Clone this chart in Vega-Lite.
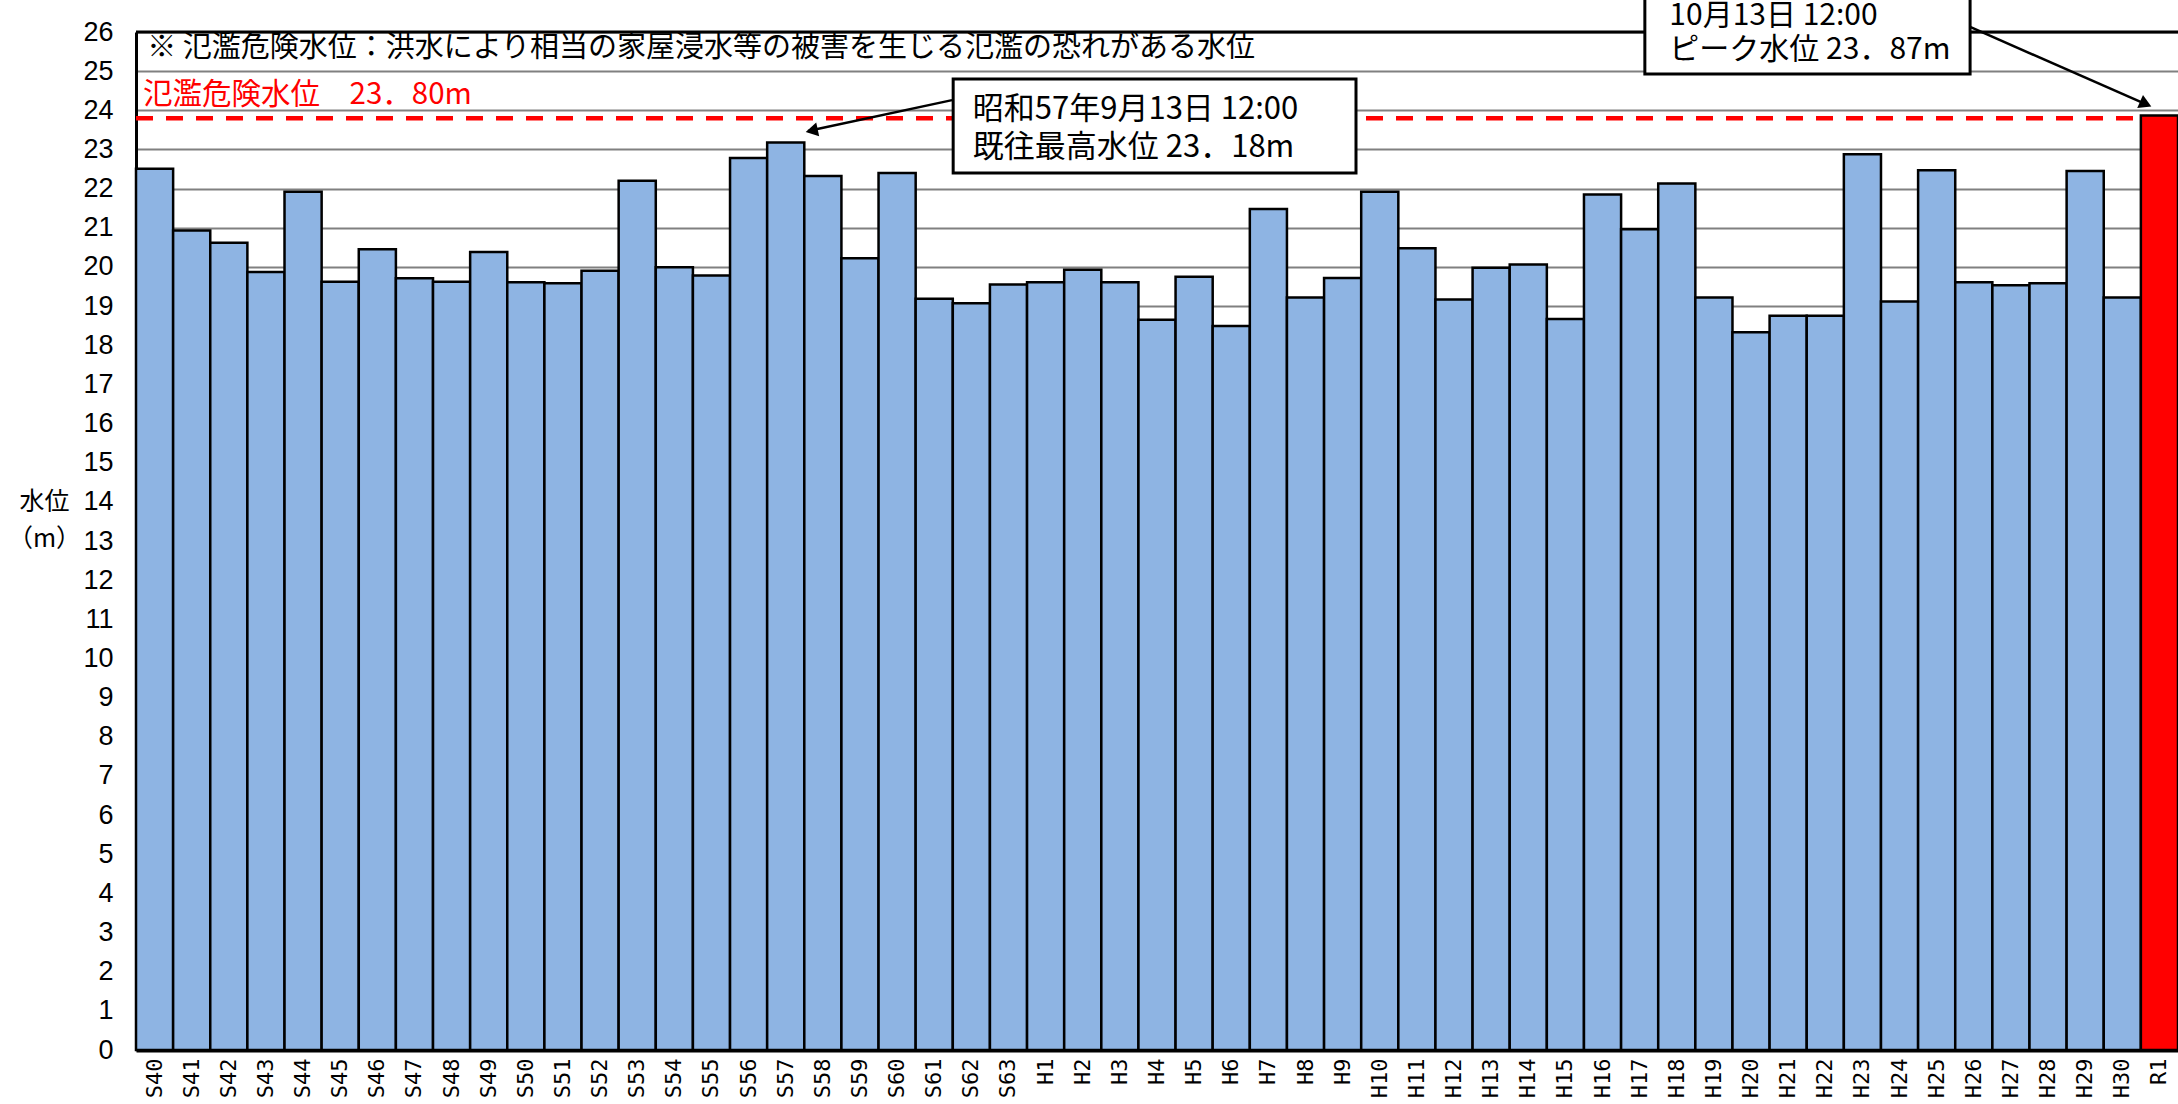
{
  "$schema": "https://vega.github.io/schema/vega-lite/v6.json",
  "width": 2042,
  "height": 1018,
  "autosize": {"type": "none"},
  "padding": {"left": 136, "top": 32, "right": 0, "bottom": 54},
  "background": "white",
  "config": {
    "view": {"stroke": null},
    "font": "Liberation Sans"
  },
  "data": {"values": [
    {"year": "S40", "level": 22.51}, {"year": "S41", "level": 20.93}, {"year": "S42", "level": 20.62},
    {"year": "S43", "level": 19.87}, {"year": "S44", "level": 21.92}, {"year": "S45", "level": 19.62},
    {"year": "S46", "level": 20.45}, {"year": "S47", "level": 19.71}, {"year": "S48", "level": 19.62},
    {"year": "S49", "level": 20.38}, {"year": "S50", "level": 19.61}, {"year": "S51", "level": 19.58},
    {"year": "S52", "level": 19.90}, {"year": "S53", "level": 22.20}, {"year": "S54", "level": 19.99},
    {"year": "S55", "level": 19.78}, {"year": "S56", "level": 22.78}, {"year": "S57", "level": 23.18},
    {"year": "S58", "level": 22.32}, {"year": "S59", "level": 20.22}, {"year": "S60", "level": 22.40},
    {"year": "S61", "level": 19.19}, {"year": "S62", "level": 19.07}, {"year": "S63", "level": 19.55},
    {"year": "H1", "level": 19.61}, {"year": "H2", "level": 19.93}, {"year": "H3", "level": 19.61},
    {"year": "H4", "level": 18.65}, {"year": "H5", "level": 19.75}, {"year": "H6", "level": 18.49},
    {"year": "H7", "level": 21.48}, {"year": "H8", "level": 19.22}, {"year": "H9", "level": 19.72},
    {"year": "H10", "level": 21.92}, {"year": "H11", "level": 20.48}, {"year": "H12", "level": 19.17},
    {"year": "H13", "level": 19.98}, {"year": "H14", "level": 20.06}, {"year": "H15", "level": 18.67},
    {"year": "H16", "level": 21.85}, {"year": "H17", "level": 20.96}, {"year": "H18", "level": 22.13},
    {"year": "H19", "level": 19.22}, {"year": "H20", "level": 18.33}, {"year": "H21", "level": 18.75},
    {"year": "H22", "level": 18.75}, {"year": "H23", "level": 22.88}, {"year": "H24", "level": 19.12},
    {"year": "H25", "level": 22.47}, {"year": "H26", "level": 19.61}, {"year": "H27", "level": 19.53},
    {"year": "H28", "level": 19.58}, {"year": "H29", "level": 22.45}, {"year": "H30", "level": 19.22},
    {"year": "R1", "level": 23.87}
  ]},
  "resolve": {"scale": {"x": "independent"}, "axis": {"x": "independent", "y": "independent"}},
  "layer": [
    {
      "mark": {"type": "bar", "stroke": "black", "strokeWidth": 2.5, "clip": false},
      "encoding": {
        "x": {
          "field": "year", "type": "nominal", "sort": null,
          "scale": {"paddingInner": 0, "paddingOuter": 0},
          "axis": {
            "title": null, "labelAngle": 270, "labelFont": "DejaVu Sans Mono", "labelFontSize": 22,
            "labelColor": "black", "labelPadding": 8, "ticks": false, "tickSize": 0,
            "domainColor": "black", "domainWidth": 4, "grid": false, "labelOverlap": false
          }
        },
        "y": {
          "field": "level", "type": "quantitative",
          "scale": {"domain": [0, 26], "nice": false, "zero": true},
          "axis": {
            "title": ["水位", "（m）"], "titleAngle": 0, "titleFont": "Noto Sans CJK JP",
            "titleFontSize": 25, "titleFontWeight": "normal", "titleColor": "black",
            "titleX": -92, "titleY": 457, "titleAlign": "center", "titleBaseline": "top", "titleLineHeight": 37,
            "values": [0,1,2,3,4,5,6,7,8,9,10,11,12,13,14,15,16,17,18,19,20,21,22,23,24,25,26],
            "labelOverlap": false,
            "labelFont": "Liberation Sans", "labelFontSize": 27, "labelColor": "black",
            "labelPadding": 23, "ticks": false, "tickSize": 0,
            "domainColor": "black", "domainWidth": 3,
            "grid": true, "gridColor": "#808080", "gridWidth": 2
          }
        },
        "fill": {
          "condition": {"test": "datum.year === 'R1'", "value": "#FF0000"},
          "value": "#8EB4E3"
        }
      }
    },
    {
      "data": {"values": [{}]},
      "layer": [
        {
          "mark": {"type": "rule", "color": "#FF0000", "strokeWidth": 4.5, "strokeDash": [17, 13]},
          "encoding": {
            "x": {"datum": 0, "type": "quantitative", "scale": {"domain": [0, 55]}, "axis": null},
            "x2": {"datum": 54},
            "y": {"datum": 23.8, "type": "quantitative", "axis": null}
          }
        },
        {
          "mark": {"type": "rule", "color": "black", "strokeWidth": 3},
          "encoding": {
            "x": {"datum": 0, "type": "quantitative", "scale": {"domain": [0, 55]}, "axis": null},
            "x2": {"datum": 55},
            "y": {"datum": 26, "type": "quantitative", "axis": null}
          }
        },
        {
          "mark": {"type": "text", "font": "Noto Sans CJK JP", "fontSize": 29, "align": "left", "baseline": "middle", "color": "black"},
          "encoding": {
            "x": {"datum": 0.30, "type": "quantitative", "scale": {"domain": [0, 55]}, "axis": null},
            "y": {"datum": 25.60, "type": "quantitative", "axis": null},
            "text": {"value": "※ 氾濫危険水位：洪水により相当の家屋浸水等の被害を生じる氾濫の恐れがある水位"}
          }
        },
        {
          "mark": {"type": "text", "font": "Noto Sans CJK JP", "fontSize": 29.5, "align": "left", "baseline": "middle", "color": "#FF0000"},
          "encoding": {
            "x": {"datum": 0.19, "type": "quantitative", "scale": {"domain": [0, 55]}, "axis": null},
            "y": {"datum": 24.39, "type": "quantitative", "axis": null},
            "text": {"value": "氾濫危険水位　23．80m"}
          }
        },
        {
          "mark": {"type": "rule", "color": "black", "strokeWidth": 2.5},
          "encoding": {
            "x": {"datum": 21.98, "type": "quantitative", "scale": {"domain": [0, 55]}, "axis": null},
            "x2": {"datum": 18.10},
            "y": {"datum": 24.26, "type": "quantitative", "axis": null},
            "y2": {"datum": 23.47}
          }
        },
        {
          "mark": {"type": "point", "shape": "triangle-up", "filled": true, "color": "black", "opacity": 1, "size": 200, "angle": 258},
          "encoding": {
            "x": {"datum": 18.20, "type": "quantitative", "scale": {"domain": [0, 55]}, "axis": null},
            "y": {"datum": 23.48, "type": "quantitative", "axis": null}
          }
        },
        {
          "mark": {"type": "rect", "fill": "white", "stroke": "black", "strokeWidth": 3},
          "encoding": {
            "x": {"datum": 22.01, "type": "quantitative", "scale": {"domain": [0, 55]}, "axis": null},
            "x2": {"datum": 32.86},
            "y": {"datum": 24.80, "type": "quantitative", "axis": null},
            "y2": {"datum": 22.40}
          }
        },
        {
          "mark": {"type": "text", "font": "Noto Sans CJK JP", "fontSize": 31, "align": "left", "baseline": "middle", "color": "black"},
          "encoding": {
            "x": {"datum": 22.54, "type": "quantitative", "scale": {"domain": [0, 55]}, "axis": null},
            "y": {"datum": 24.00, "type": "quantitative", "axis": null},
            "text": {"value": "昭和57年9月13日 12:00"}
          }
        },
        {
          "mark": {"type": "text", "font": "Noto Sans CJK JP", "fontSize": 31, "align": "left", "baseline": "middle", "color": "black"},
          "encoding": {
            "x": {"datum": 22.54, "type": "quantitative", "scale": {"domain": [0, 55]}, "axis": null},
            "y": {"datum": 23.04, "type": "quantitative", "axis": null},
            "text": {"value": "既往最高水位 23．18m"}
          }
        },
        {
          "mark": {"type": "rule", "color": "black", "strokeWidth": 2.5},
          "encoding": {
            "x": {"datum": 49.40, "type": "quantitative", "scale": {"domain": [0, 55]}, "axis": null},
            "x2": {"datum": 54.10},
            "y": {"datum": 26.13, "type": "quantitative", "axis": null},
            "y2": {"datum": 24.17}
          }
        },
        {
          "mark": {"type": "point", "shape": "triangle-up", "filled": true, "color": "black", "opacity": 1, "size": 200, "angle": 114},
          "encoding": {
            "x": {"datum": 54.13, "type": "quantitative", "scale": {"domain": [0, 55]}, "axis": null},
            "y": {"datum": 24.16, "type": "quantitative", "axis": null}
          }
        },
        {
          "mark": {"type": "rect", "fill": "white", "stroke": "black", "strokeWidth": 3, "clip": false},
          "encoding": {
            "x": {"datum": 40.64, "type": "quantitative", "scale": {"domain": [0, 55]}, "axis": null},
            "x2": {"datum": 49.40},
            "y": {"datum": 27.6, "type": "quantitative", "axis": null},
            "y2": {"datum": 24.93}
          }
        },
        {
          "mark": {"type": "text", "font": "Noto Sans CJK JP", "fontSize": 30, "align": "left", "baseline": "middle", "color": "black"},
          "encoding": {
            "x": {"datum": 41.30, "type": "quantitative", "scale": {"domain": [0, 55]}, "axis": null},
            "y": {"datum": 26.40, "type": "quantitative", "axis": null},
            "text": {"value": "10月13日 12:00"}
          }
        },
        {
          "mark": {"type": "text", "font": "Noto Sans CJK JP", "fontSize": 30, "align": "left", "baseline": "middle", "color": "black"},
          "encoding": {
            "x": {"datum": 41.30, "type": "quantitative", "scale": {"domain": [0, 55]}, "axis": null},
            "y": {"datum": 25.53, "type": "quantitative", "axis": null},
            "text": {"value": "ピーク水位 23．87m"}
          }
        }
      ]
    }
  ]
}
